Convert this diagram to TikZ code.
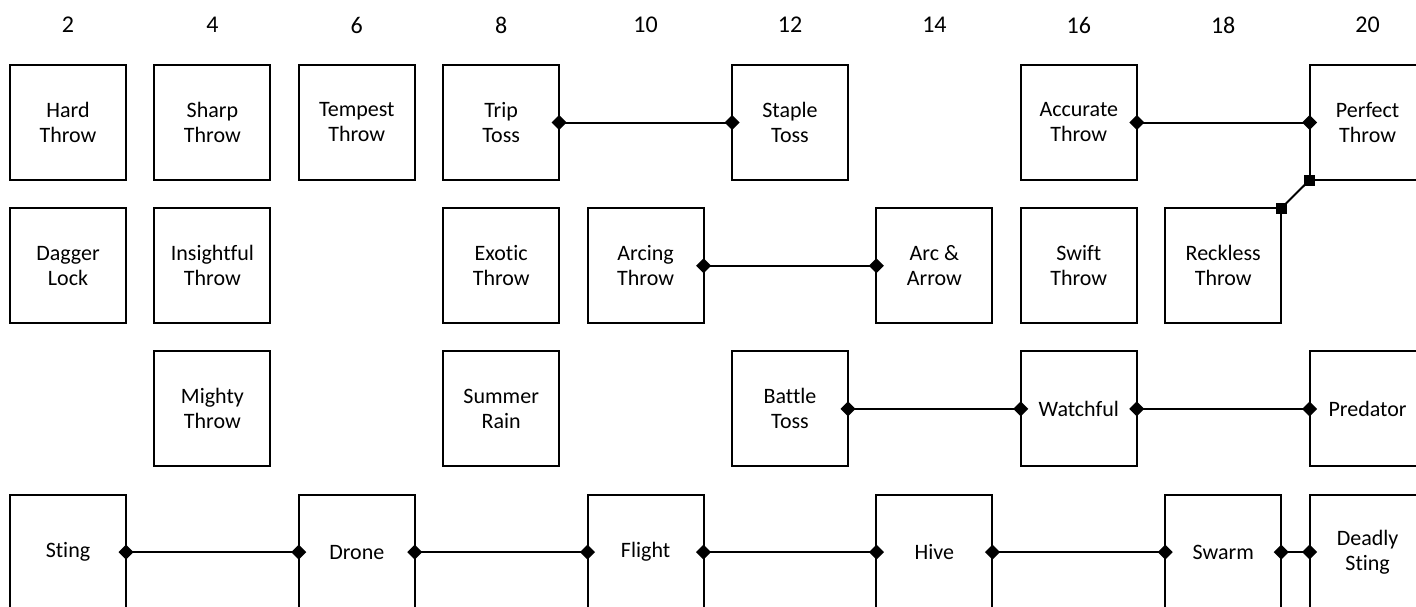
\documentclass[tikz,border=0pt]{standalone}
\usepackage{fontspec}
\setmainfont{Carlito}[Ligatures=NoCommon]
\usetikzlibrary{arrows.meta}
\begin{document}
\begin{tikzpicture} [
                x=0.5pt, y=-0.5pt,
                skill/.style={draw,line width=1pt,minimum width=58pt,minimum height=57.5pt,
                    inner sep=0pt,outer sep=0pt,align=center,
                    font=\fontsize{11}{12.5}\selectfont},
                colnum/.style={font=\fontsize{12}{14}\selectfont},
                link/.style = {draw,line width=1pt,
                    {Diamond[length=7.5pt,width=7.5pt]}-{Diamond[length=7.5pt,width=7.5pt]},
                    shorten <=-3.75pt, shorten >=-3.75pt},
                corner link/.style = {draw,line width=1pt,-},
                endsq/.style = {fill,minimum size=5.5pt,inner sep=0pt},
            ]
            \clip (0,0) rectangle (1416,606);
            % Level numbers along the top
            \foreach \n in {2,4,...,20}
                \node[colnum] (lvl\n) at ({68+72.2*(\n-2)},25) {\n};
            % First we draw the skills (level/row/name/text)
            \foreach \col/\row/\name/\txt in {
                    2/1/hard/{Hard\\Throw},
                    4/1/sharp/{Sharp\\Throw},
                    6/1/tempest/{Tempest\\Throw},
                    8/1/trip/{Trip\\Toss},
                    12/1/staple/{Staple\\Toss},
                    16/1/accurate/{Accurate\\Throw},
                    20/1/perfect/{Perfect\\Throw},
                    2/2/dagger/{Dagger\\Lock},
                    4/2/insightful/{Insightful\\Throw},
                    8/2/exotic/{Exotic\\Throw},
                    10/2/arcing/{Arcing\\Throw},
                    14/2/arcarrow/{Arc \&\\Arrow},
                    16/2/swift/{Swift\\Throw},
                    18/2/reckless/{Reckless\\Throw},
                    4/3/mighty/{Mighty\\Throw},
                    8/3/summer/{Summer\\Rain},
                    12/3/battle/{Battle\\Toss},
                    16/3/watchful/{Watchful},
                    20/3/predator/{Predator},
                    2/4/sting/{Sting},
                    6/4/drone/{Drone},
                    10/4/flight/{Flight},
                    14/4/hive/{Hive},
                    18/4/swarm/{Swarm},
                    20/4/deadly/{Deadly\\Sting}}
                \node[skill] (\name) at ({68+72.2*(\col-2)},{122.5+143.2*(\row-1)}) {\txt};
            % Connect the skill chains
            \foreach \source/ \dest in {
                    trip/staple,
                    accurate/perfect,
                    arcing/arcarrow,
                    battle/watchful,
                    watchful/predator,
                    sting/drone,
                    drone/flight,
                    flight/hive,
                    hive/swarm,
                    swarm/deadly}
                \path[link] (\source.east) -- (\dest.west);
            \path[corner link] (reckless.north east) node[endsq] {}
                -- (perfect.south west) node[endsq] {};
        \end{tikzpicture}
\end{document}
